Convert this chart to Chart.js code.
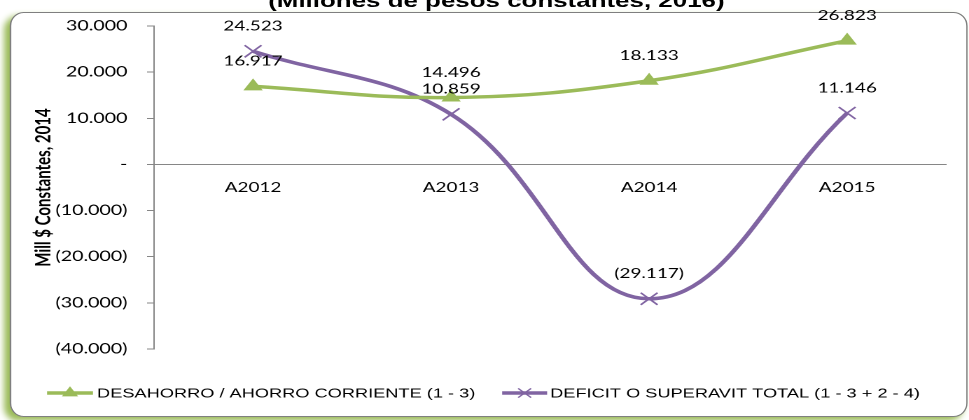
<!DOCTYPE html>
<html>
<head>
<meta charset="utf-8">
<script src="https://cdn.jsdelivr.net/npm/chart.js@4.4.0/dist/chart.umd.min.js"></script>
<style>
  html, body { margin: 0; padding: 0; background: #fff; overflow: hidden; }
  /* the reference is stretched sideways, so draw narrow and widen */
  #wrap { position: absolute; left: 0; top: 0; width: 692px; height: 420px;
          transform: scaleX(1.4003); transform-origin: 0 0; }
  #frame { position: absolute; left: 7px; top: 12px; width: 684px; height: 405px;
           box-sizing: border-box; border: 1px solid #7f7f7f; border-radius: 10px / 14px;
           background: #fff; box-shadow: -4px 4px 5px #9bbb59; }
  #title { position: absolute; left: 0; top: -9.4px; width: 709px; text-align: center;
           font: bold 18.5px "Liberation Sans", Arial, sans-serif; line-height: 20px; color: #000; }
  #mycanvas { position: absolute; left: 0; top: 0; }
</style>
</head>
<body>
<div id="wrap">
  <div id="frame"></div>
  <div id="title">(Millones de pesos constantes, 2016)</div>
  <canvas id="mycanvas" width="692" height="420"></canvas>
</div>
<script>
var years = ['A2012', 'A2013', 'A2014', 'A2015'];
var ahorroCorriente = [16917, 14496, 18133, 26823];
var deficitTotal = [24523, 10859, -29117, 11146];
var yTicks = [30000, 20000, 10000, 0, -10000, -20000, -30000, -40000];
var seriesNames = ['DESAHORRO / AHORRO CORRIENTE (1 - 3)', 'DEFICIT O SUPERAVIT TOTAL (1 - 3 + 2 - 4)'];

var green = '#9bbb59';
var purple = '#8064a2';
var axisGray = '#868686';

function fmt(v) {
  if (v === 0) return '-';
  var s = Math.abs(v).toString().replace(/\B(?=(\d{3})+(?!\d))/g, '.');
  return v < 0 ? '(' + s + ')' : s;
}

// value labels above each point
var pointLabels = {
  id: 'pointLabels',
  afterDatasetsDraw: function(chart) {
    var ctx = chart.ctx;
    ctx.save();
    ctx.font = '13.5px Lato';
    ctx.fillStyle = '#000';
    ctx.textAlign = 'center';
    ctx.textBaseline = 'middle';
    chart.data.datasets.forEach(function(ds, i) {
      chart.getDatasetMeta(i).data.forEach(function(pt, j) {
        ctx.fillText(fmt(ds.data[j]), pt.x, pt.y - 25);
      });
    });
    ctx.restore();
  }
};

// legend at the bottom: line with marker, then name
var lineLegend = {
  id: 'lineLegend',
  afterDraw: function(chart) {
    var ctx = chart.ctx;
    var y = 393;
    var items = [
      { x0: 33.6, x1: 66.4, tx: 69.3, color: green, style: 'triangle', r: 5.5 },
      { x0: 358.6, x1: 390.7, tx: 392.9, color: purple, style: 'crossRot', r: 6.5 }
    ];
    ctx.save();
    items.forEach(function(it, i) {
      ctx.strokeStyle = it.color;
      ctx.lineWidth = 3.5;
      ctx.beginPath();
      ctx.moveTo(it.x0, y);
      ctx.lineTo(it.x1, y);
      ctx.stroke();
      ctx.fillStyle = it.color;
      ctx.lineWidth = 1.2;
      Chart.helpers.drawPoint(ctx, { pointStyle: it.style, radius: it.r, borderWidth: 1.2, rotation: 0 },
        (it.x0 + it.x1) / 2, y);
      ctx.fillStyle = '#000';
      ctx.font = '13px "Liberation Sans", Arial';
      ctx.textAlign = 'left';
      ctx.textBaseline = 'middle';
      ctx.fillText(seriesNames[i], it.tx, y + 1);
    });
    ctx.restore();
  }
};

var ctx = document.getElementById('mycanvas');

var lineGraph = new Chart(ctx, {
  type: 'line',
  data: {
    labels: years,
    datasets: [
      {
        label: seriesNames[0],
        data: ahorroCorriente,
        borderColor: green,
        backgroundColor: green,
        borderWidth: 3.5,
        tension: 0.4,
        pointStyle: 'triangle',
        pointRadius: 7,
        pointBorderWidth: 1,
        pointBackgroundColor: green,
        pointBorderColor: green
      },
      {
        label: seriesNames[1],
        data: deficitTotal,
        borderColor: purple,
        backgroundColor: purple,
        borderWidth: 3.5,
        tension: 0.4,
        pointStyle: 'crossRot',
        pointRadius: 8.5,
        pointBorderWidth: 1.5,
        pointBorderColor: purple
      }
    ]
  },
  options: {
    responsive: false,
    animation: false,
    devicePixelRatio: 2,
    layout: { padding: { left: 0, right: 16.3, top: 26, bottom: 71 } },
    plugins: {
      legend: { display: false },
      tooltip: { enabled: false }
    },
    scales: {
      x: {
        position: { y: 0 },
        offset: true,
        grid: { display: true, drawOnChartArea: false, drawTicks: false },
        border: { display: true, color: axisGray, width: 1 },
        ticks: { color: '#000', padding: 15, font: { family: 'Lato', size: 13.5 } }
      },
      y: {
        position: 'left',
        min: -40000,
        max: 30000,
        afterBuildTicks: function(scale) {
          scale.ticks = yTicks.map(function(v) { return { value: v }; });
        },
        afterFit: function(scale) { scale.width = 110; },
        grid: { display: true, drawOnChartArea: false, drawTicks: true, tickLength: 5, color: axisGray },
        border: { display: true, color: axisGray, width: 1 },
        ticks: {
          color: '#000',
          padding: 14,
          font: { family: 'Lato', size: 14 },
          callback: function(v) { return fmt(v); }
        },
        title: {
          display: true,
          text: 'Mill $ Constantes, 2014',
          color: '#000',
          font: { family: 'Lato', weight: 'bold', size: 15 },
          padding: { top: 22, bottom: 0 }
        }
      }
    }
  },
  plugins: [pointLabels, lineLegend]
});
</script>
</body>
</html>
